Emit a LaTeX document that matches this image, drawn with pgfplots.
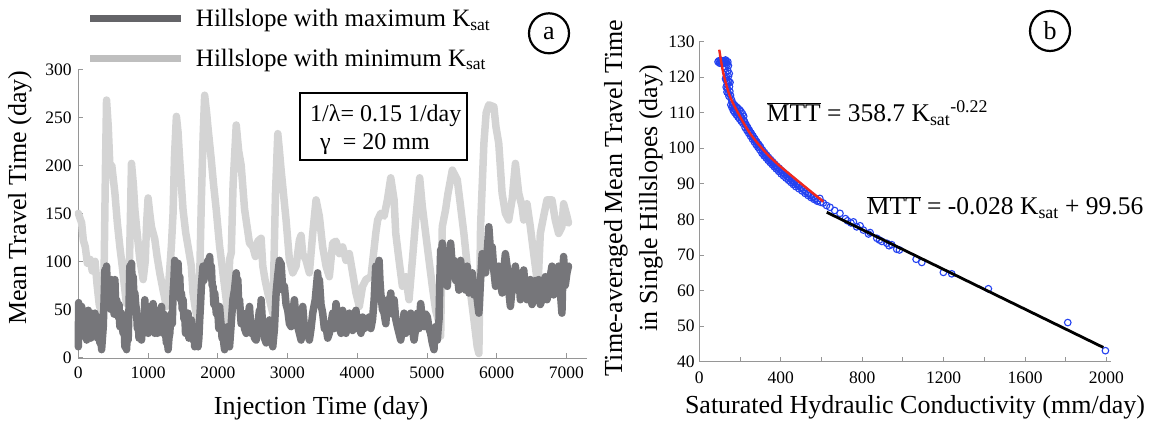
\documentclass[border=0pt]{standalone}
\usepackage{fontspec}
\setmainfont{Liberation Serif}
\usepackage{pgfplots}
\pgfplotsset{compat=1.18}
\definecolor{darkser}{RGB}{118,118,122}
\definecolor{lightser}{RGB}{212,212,212}
\definecolor{ptblue}{RGB}{35,65,240}
\definecolor{fitred}{RGB}{240,40,30}
\definecolor{axgray}{RGB}{150,150,150}
\pgfplotsset{
  myaxis/.style={
    scale only axis,
    axis x line*=bottom, axis y line*=left,
    axis line style={draw=axgray, line width=1bp, -},
    tick style={draw=axgray, line width=0.8bp},
    tick align=inside,
    major tick length=5bp, minor tick length=5bp,
    tick label style={font=\rmfamily\fontsize{17.5bp}{20bp}\selectfont, inner sep=0pt},
    label style={font=\rmfamily\fontsize{26bp}{35bp}\selectfont},
  }
}
\begin{document}
\begin{tikzpicture}
\path[use as bounding box] (0,0) rectangle (1156bp,429bp);
% ---------------- panel a ----------------
\begin{axis}[myaxis,
  at={(78.3bp,70.7bp)}, anchor=south west,
  width=509bp, height=289bp,
  xmin=0, xmax=7300, ymin=-1, ymax=300,
  xtick={0,1000,...,7000}, ytick={0,50,...,300},
  xticklabels={0,1000,2000,3000,4000,5000,6000,7000},
  yticklabels={0,50,100,150,200,250,300},
  xticklabel style={yshift=-8.4bp}, yticklabel style={xshift=-6.5bp},
  clip=false,
  xlabel={Injection Time (day)}, ylabel={Mean Travel Time (day)},
  xlabel style={at={(axis description cs:0.477,-0.172)}, anchor=center},
  ylabel style={at={(axis description cs:-0.1145,0.556)}, anchor=center},
  legend style={at={(axis description cs:0.0167,1.107)}, anchor=west, draw=none, fill=none,
    inner sep=0pt, row sep=17bp, font=\rmfamily\fontsize{25bp}{30bp}\selectfont},
  legend cell align=left,
  legend image code/.code={\draw[#1] (0bp,0bp) -- (91bp,0bp); \path (100bp,0bp);},
]
\addlegendimage{draw=darkser!85!black, line width=7bp}
\addlegendentry{Hillslope with maximum K\textsubscript{sat}}
\addlegendimage{draw=lightser!90!black, line width=7bp}
\addlegendentry{Hillslope with minimum K\textsubscript{sat}}
\addplot[forget plot, draw=lightser, line width=7.5bp, line join=round, line cap=round] coordinates {
(0,150) (48,140) (72,122) (100,115) (130,98) (170,102) (200,90) (240,100) (270,75) (300,55) (334,46)
(360,60) (372,101) (390,200) (405,268) (430,240) (453,199) (480,200) (525,171) (560,140) (596,115)
(630,95) (668,70) (690,56) (720,60) (740,120) (763,202) (790,180) (811,154) (850,125) (882,102)
(930,81) (960,100) (980,140) (1001,166) (1025,150) (1049,136) (1097,123) (1130,105) (1168,88)
(1216,70) (1264,53) (1300,80) (1335,116) (1359,150) (1380,210) (1407,251) (1430,235) (1454,206)
(1502,154) (1540,130) (1573,116) (1621,95) (1645,67) (1680,50) (1716,36) (1740,80) (1764,161)
(1790,230) (1812,273) (1840,255) (1859,240) (1907,206) (1940,180) (1978,154) (2026,116) (2074,88)
(2122,60) (2146,32) (2170,102) (2194,109) (2220,180) (2265,242) (2300,215) (2336,200) (2385,154)
(2455,119) (2503,115) (2540,105) (2575,121) (2622,124) (2646,95) (2680,80) (2718,67) (2790,46)
(2810,110) (2828,171) (2861,233) (2885,215) (2909,195) (2980,143) (3028,101) (3076,88) (3123,95)
(3171,122) (3195,127) (3219,108) (3266,101) (3314,88) (3362,129) (3410,164) (3457,147) (3505,115)
(3553,95) (3600,84) (3648,119) (3696,121) (3744,108) (3791,115) (3839,101) (3887,108) (3934,88)
(3982,67) (4030,53) (4077,74) (4125,81) (4197,84) (4245,115) (4266,129) (4293,143) (4338,150)
(4386,147) (4433,164) (4481,187) (4529,164) (4553,129) (4600,101) (4648,74) (4696,84) (4743,60)
(4791,101) (4839,143) (4896,187) (4934,157) (4982,129) (5030,101) (5077,74) (5125,49) (5173,36)
(5197,22) (5220,136) (5268,154) (5300,170) (5364,195) (5435,185) (5483,157) (5530,129) (5578,95)
(5626,67) (5674,39) (5721,11) (5745,4) (5769,136) (5817,223) (5850,255) (5888,263) (5960,261)
(5990,240) (6030,223) (6078,171) (6125,150) (6173,143) (6221,164) (6269,202) (6316,171) (6364,157)
(6388,143) (6435,160) (6483,136) (6531,108) (6579,81) (6593,74) (6626,129) (6674,147) (6722,164)
(6793,164) (6841,143) (6889,129) (6936,136) (6960,160) (7008,147) (7030,140)
};
\addplot[forget plot, draw=darkser, line width=7.5bp, line join=round, line cap=round] coordinates {
(0,11) (5,57) (24,25) (36,40) (48,53) (60,30) (72,22) (84,40) (95,32) (108,45) (120,18) (132,35) (143,49) (155,30) (167,36) (179,20) (191,46) (203,35) (215,22) (227,40) (239,46)
(250,25) (262,32) (274,20) (286,42) (298,25) (310,15) (322,30) (334,8) (346,20) (358,32) (370,60) (382,91) (394,75) (405,95) (417,70) (429,81) (441,55) (453,67) (465,50) (477,81) (489,55) (501,60)
(513,45) (525,81) (537,50) (549,60) (560,55) (572,42) (584,55) (596,32) (608,40) (620,46) (632,30) (644,25) (656,35) (668,11) (680,20) (692,8) (703,25) (715,18) (727,50) (739,95) (751,80) (763,98)
(775,70) (787,84) (799,60) (811,67) (823,55) (835,49) (847,30) (859,36) (871,20) (882,25) (894,40) (906,18) (918,30) (930,36) (942,25) (954,60) (966,40) (978,53) (990,35) (1002,25) (1014,40) (1025,53)
(1037,40) (1049,32) (1061,45) (1073,56) (1085,35) (1097,25) (1109,40) (1121,46) (1133,25) (1145,32) (1169,45) (1193,53) (1205,35) (1216,25) (1228,45) (1240,39) (1252,25) (1264,15) (1276,25) (1288,8)
(1300,20) (1312,25) (1324,40) (1336,46) (1348,35) (1359,67) (1371,80) (1383,101) (1407,90) (1431,98) (1443,75) (1455,84) (1467,60) (1479,67) (1491,50) (1503,60) (1515,40) (1526,46) (1538,25) (1550,36)
(1562,25) (1574,46) (1586,20) (1598,32) (1610,20) (1622,39) (1634,25) (1646,18) (1658,30) (1670,11) (1682,20) (1694,32) (1706,15) (1717,11) (1729,20) (1741,39) (1753,55) (1765,74) (1777,85) (1789,95)
(1801,80) (1813,88) (1836,95) (1860,101) (1872,85) (1884,105) (1896,85) (1908,95) (1920,75) (1932,74) (1944,55) (1956,67) (1980,45) (2003,46) (2015,30) (2026,53) (2040,40) (2051,32) (2062,20) (2074,25)
(2086,15) (2098,8) (2120,20) (2145,32) (2157,20) (2169,11) (2193,35) (2217,60) (2240,70) (2265,88) (2277,70) (2288,81) (2300,55) (2312,60) (2336,35) (2360,46) (2384,30) (2408,25) (2430,40) (2455,53)
(2479,25) (2503,32) (2527,20) (2551,18) (2575,35) (2598,49) (2610,35) (2622,60) (2634,45) (2646,32) (2670,20) (2694,15) (2718,30) (2742,39) (2766,20) (2789,11) (2813,30) (2837,67) (2860,85) (2885,101)
(2897,85) (2908,98) (2932,70) (2956,74) (2980,55) (3004,49) (3028,35) (3052,32) (3076,45) (3099,60) (3123,40) (3147,32) (3171,25) (3195,18) (3207,40) (3219,53) (3243,30) (3266,32) (3290,25) (3314,18)
(3338,30) (3362,46) (3398,60) (3433,88) (3445,65) (3457,81) (3481,55) (3505,46) (3529,30) (3553,32) (3577,20) (3600,25) (3624,35) (3648,46) (3672,30) (3696,56) (3720,40) (3744,32) (3768,25) (3791,49)
(3815,35) (3839,25) (3863,40) (3887,46) (3911,30) (3934,28) (3958,40) (3982,49) (4006,30) (4030,32) (4054,25) (4077,42) (4101,30) (4125,32) (4149,40) (4173,42) (4196,30) (4219,39) (4243,60) (4266,95)
(4290,80) (4314,101) (4326,80) (4338,67) (4362,50) (4386,46) (4410,35) (4433,60) (4457,50) (4481,67) (4505,45) (4529,60) (4552,40) (4576,32) (4600,25) (4624,18) (4648,30) (4672,46) (4696,25) (4720,32)
(4743,40) (4767,46) (4791,30) (4815,18) (4839,30) (4863,46) (4887,30) (4910,56) (4934,40) (4958,32) (4982,45) (5006,42) (5030,30) (5053,25) (5077,15) (5101,8) (5113,25) (5125,32) (5137,20) (5149,18)
(5161,30) (5173,39) (5185,80) (5197,112) (5209,95) (5220,119) (5232,100) (5244,95) (5268,80) (5292,74) (5316,100) (5340,119) (5364,95) (5388,101) (5412,80) (5435,88) (5459,70) (5483,101) (5507,80)
(5530,84) (5554,70) (5578,95) (5590,80) (5602,67) (5626,80) (5650,88) (5674,65) (5698,74) (5722,60) (5745,46) (5769,80) (5793,108) (5817,95) (5841,88) (5865,110) (5888,136) (5912,110) (5936,115)
(5960,90) (5984,74) (6008,85) (6031,95) (6055,80) (6078,67) (6102,90) (6125,108) (6149,95) (6173,70) (6197,53) (6233,80) (6269,95) (6293,70) (6316,88) (6340,60) (6364,67) (6388,91) (6412,70)
(6435,60) (6459,75) (6483,81) (6507,55) (6531,60) (6555,80) (6579,74) (6602,81) (6626,55) (6650,60) (6674,75) (6698,84) (6722,60) (6746,70) (6770,85) (6793,95) (6817,65) (6841,81) (6865,70)
(6889,95) (6912,70) (6936,46) (6948,80) (6960,105) (6984,75) (7008,88) (7030,95)
};
\end{axis}
% text box in panel a
\draw[line width=1.1bp] (300bp,269bp) rectangle (467bp,336bp);
\node[anchor=base west, inner sep=0pt, font=\fontsize{24bp}{28bp}\selectfont] at (310bp,307.3bp) {1/λ= 0.15 1/day};
\node[anchor=base west, inner sep=0pt, font=\fontsize{24bp}{28bp}\selectfont] at (320bp,279bp) {γ \ = 20 mm};
\node[draw, circle, line width=2.2bp, minimum size=40bp, inner sep=0pt, font=\fontsize{26bp}{30bp}\selectfont] at (549bp,395.7bp) {a};
% ---------------- panel b ----------------
\begin{axis}[myaxis,
  at={(699.3bp,67.3bp)}, anchor=south west,
  width=411.2bp, height=320.2bp,
  xmin=0, xmax=2020, ymin=40, ymax=130,
  xtick={0,400,...,2000}, minor xtick={200,600,...,1800}, ytick={40,50,...,130},
  xticklabels={0,400,800,1200,1600,2000},
  yticklabels={40,50,60,70,80,90,100,110,120,130},
  xticklabel style={yshift=-10bp}, yticklabel style={xshift=-4.5bp},
  clip marker paths=true,
  xlabel={Saturated Hydraulic Conductivity (mm/day)},
  ylabel={Time-averaged Mean Travel Time\\in Single Hillslopes (day)},
  xlabel style={at={(axis description cs:0.5245,-0.1415)}, anchor=center},
  ylabel style={at={(axis description cs:-0.16,0.511)}, anchor=center, align=center},
]
\addplot[only marks, mark=o, mark size=3.3bp, color=ptblue, mark options={line width=1.1bp}] coordinates {
(92,124.3) (97,124.6) (101,123.9) (105,124.7) (109,124.1) (113,124.5) (117,123.8) (121,124.6) (125,124.2)
(129,124.8) (133,124.0) (137,123.6) (140,124.3) (143,123.2) (99,124.0) (107,124.3) (115,124.0) (123,123.9) (131,124.5)
(127,122.5) (130,121.3) (133,120.1) (134,118.9) (137,117.8) (139,116.6) (142,115.5) (146,114.6)
(140,121.8) (143,120.2) (145,118.7) (148,117.3) (150,116.0) (153,114.9)
(129,119.5) (132,117.2) (136,115.8) (141,119.0) (147,121.0) (151,118.5)
(157,113.8) (162,113.0) (168,112.4) (175,112.0) (183,111.6) (190,111.2) (198,110.8) (205,110.3) (212,109.7)
(218,109.0) (160,111.5) (167,110.6) (174,110.0) (182,109.4) (190,108.8) (198,108.2) (206,107.6) (214,107.0)
(155,112.2) (164,112.0) (171,111.2) (179,110.7) (186,110.0) (194,109.5) (202,109.0) (210,108.4) (218,107.8)
(222,107.5) (230,106.6) (238,105.8) (246,105.0) (255,104.2) (264,103.4) (273,102.6) (282,101.8) (291,101.1)
(300,100.4) (225,105.8) (234,105.0) (243,104.2) (252,103.4) (261,102.6) (270,101.8) (279,101.0) (288,100.3)
(226,106.7) (235,105.9) (244,105.1) (253,104.3) (262,103.5) (271,102.7) (280,101.9) (289,101.2) (298,100.5)
(297,99.6) (310,99.5) (320,98.8) (330,98.1) (340,97.4) (350,96.8) (360,96.2) (370,95.6) (380,95.0)
(308,98.6) (318,97.9) (328,97.3) (338,96.6) (348,96.0) (358,95.4) (368,94.8) (378,94.2)
(313,99.0) (323,98.3) (333,97.7) (343,97.0) (353,96.4) (363,95.8) (373,95.2) (383,94.6)
(392,94.4) (404,93.7) (416,93.1) (428,92.5) (440,91.9) (452,91.3) (464,90.7) (476,90.1)
(390,93.5) (402,92.8) (414,92.2) (426,91.6) (438,91.0) (450,90.4) (462,89.8) (474,89.2)
(396,93.9) (408,93.3) (420,92.7) (432,92.1) (444,91.5) (456,90.9) (468,90.3) (480,89.7)
(488,89.6) (500,89.0) (512,88.4) (524,87.8) (536,87.3) (548,86.8) (560,86.3) (572,85.8) (584,85.3)
(596,84.8) (490,88.6) (505,88.0) (520,87.3) (535,86.7) (550,86.1) (565,85.6) (580,85.1) (592,85.9)
(609,84.6) (625,83.9) (642,83.4) (665,82.5) (691,81.7) (718,80.2) (728,79.6) (745,79.0) (757,79.3)
(773,77.9) (790,78.2) (806,77.0) (831,75.9) (839,76.3) (872,74.7) (885,74.2) (897,73.8) (921,73.3)
(932,72.6) (945,72.9) (970,71.6) (983,71.4) (1065,68.8) (1093,67.9) (1199,65.1) (1240,64.7)
(1420,60.5) (1810,51.0) (1995,43.1)
};
\addplot[color=fitred, line width=2.4bp, smooth] coordinates {
(98,127.7) (118,121.1) (151,114.5) (200,108.9) (249,104.2) (315,99.5) (380,95.8) (478,91.1) (609,85.0)
};
\addplot[color=black, line width=2.8bp] coordinates {(626,82.0) (1985,44.0)};
\end{axis}
\node[anchor=base west, inner sep=0pt, font=\fontsize{25.5bp}{30bp}\selectfont] at (766.7bp,307.3bp)
  {$\overline{\hbox{MTT}}$ = 358.7 K\textsubscript{sat}\textsuperscript{-0.22}};
\node[anchor=base west, inner sep=0pt, font=\fontsize{25.5bp}{30bp}\selectfont] at (866.7bp,214bp)
  {$\overline{\hbox{MTT}}$ = -0.028 K\textsubscript{sat} + 99.56};
\node[draw, circle, line width=2.2bp, minimum size=40bp, inner sep=0pt, font=\fontsize{26bp}{30bp}\selectfont] at (1050bp,398bp) {b};
\end{tikzpicture}
\end{document}
